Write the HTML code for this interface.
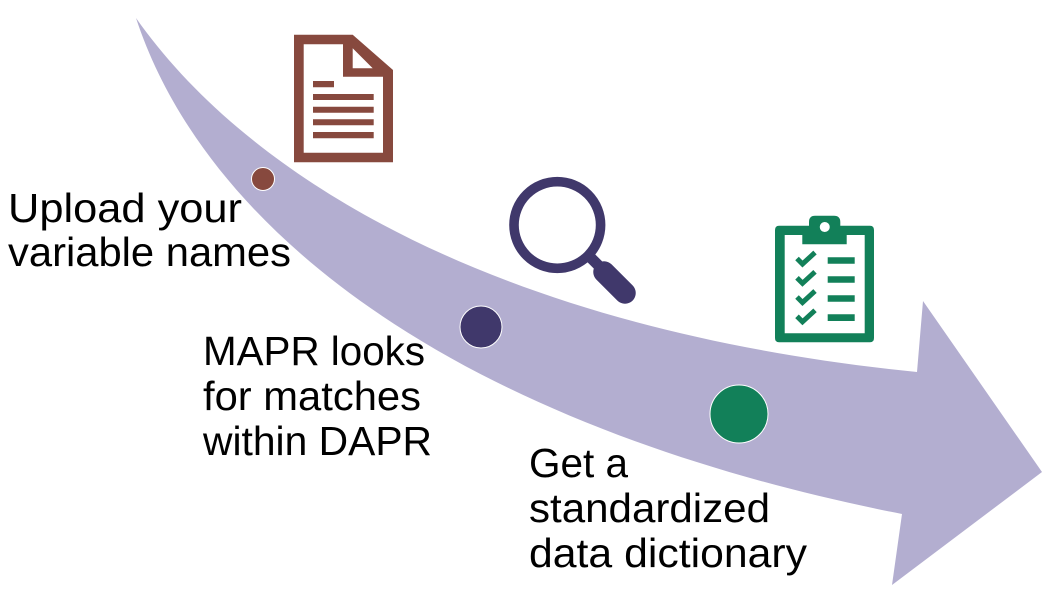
<!DOCTYPE html>
<html><head><meta charset="utf-8"><style>html,body{margin:0;padding:0;background:#fff;width:1060px;height:603px;overflow:hidden}svg{display:block}text{font-family:"Liberation Sans",sans-serif;font-size:41px;fill:#000}</style></head>
<body><svg width="1060" height="603" viewBox="0 0 1060 603" xmlns="http://www.w3.org/2000/svg">
<path d="M136 18C250 180 500 330 917 372L923 301L1042 472L892 585L902 514C450 425 205 228 136 18Z" fill="#b3aed0"/>
<circle cx="263" cy="179" r="11.500" fill="#87493e" stroke="#fff" stroke-width="1"/>
<circle cx="481" cy="327" r="21" fill="#40386b" stroke="#fff" stroke-width="1"/>
<circle cx="739" cy="414" r="29" fill="#128059" stroke="#fff" stroke-width="1"/>
<path fill-rule="evenodd" d="M294 34.700H352.700L393 70V162.300H294ZM303.700 44.300V152.700H383V76.700H343V44.300ZM352.700 48.300V68.300H372.700Z" fill="#87493e"/>
<path d="M313 81H334V87.300H313ZM313 94H373.700V100H313ZM313 106.700H373.700V112.700H313ZM313 119.300H373.700V125.300H313ZM313 132H373.700V138.300H313Z" fill="#87493e"/>
<circle cx="557.300" cy="225" r="43.300" fill="none" stroke="#40386b" stroke-width="9.600"/>
<path d="M590 257L601 268" stroke="#40386b" stroke-width="11" fill="none"/>
<path d="M604 272L625 293" stroke="#40386b" stroke-width="21.500" stroke-linecap="round" fill="none"/>
<path fill-rule="evenodd" d="M779 225.700H809V222Q809 215.700 815 215.700H834Q840.300 215.700 840.300 222V225.700H870Q874 225.700 874 230V338Q874 342.300 870 342.300H779Q775 342.300 775 338V230Q775 225.700 779 225.700ZM784.700 235V333.300H864.700V235H846.700V244.300H802.300V235ZM824.700 222A5 5 0 1 0 824.800 232A5 5 0 1 0 824.700 222Z" fill="#128059"/>
<g stroke="#128059" stroke-width="5" fill="none"><path d="M797 258.500L802.500 264L815 252.500M797 277.800L802.500 283.300L815 271.800M797 297L802.500 302.500L815 291M797 316.300L802.500 321.800L815 310.300"/></g>
<path d="M827.700 257.300H854.700V263.700H827.700ZM827.700 276.300H854.700V282.700H827.700ZM827.700 295.300H854.700V301.700H827.700ZM827.700 314.300H854.700V321H827.700Z" fill="#128059"/>
<text x="8" y="222" textLength="234" lengthAdjust="spacingAndGlyphs">Upload your</text>
<text x="8" y="266" textLength="283" lengthAdjust="spacingAndGlyphs">variable names</text>
<text x="203" y="365" textLength="222" lengthAdjust="spacingAndGlyphs">MAPR looks</text>
<text x="203" y="410" textLength="218" lengthAdjust="spacingAndGlyphs">for matches</text>
<text x="203" y="455" textLength="229" lengthAdjust="spacingAndGlyphs">within DAPR</text>
<text x="529" y="477" textLength="99" lengthAdjust="spacingAndGlyphs">Get a</text>
<text x="529" y="522" textLength="241" lengthAdjust="spacingAndGlyphs">standardized</text>
<text x="529" y="567" textLength="278" lengthAdjust="spacingAndGlyphs">data dictionary</text>
</svg></body></html>
